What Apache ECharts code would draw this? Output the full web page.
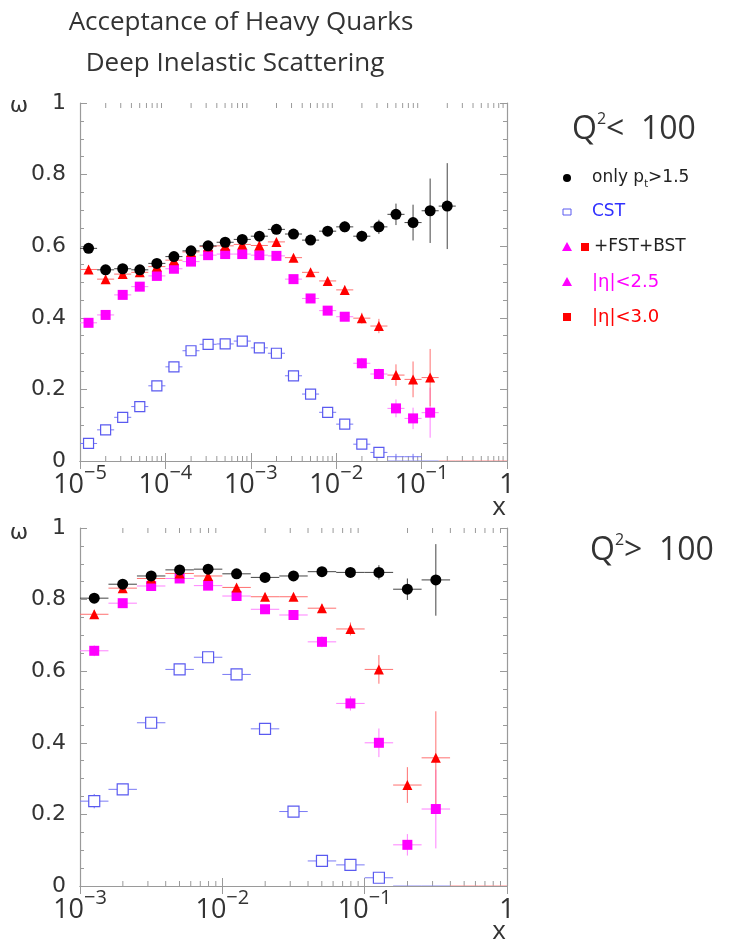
<!DOCTYPE html>
<html>
<head>
<meta charset="utf-8">
<script src="https://cdn.jsdelivr.net/npm/echarts@6/dist/echarts.min.js"></script>
<style>
html,body{margin:0;padding:0;background:#fff;}
#c{width:734px;height:943px;}
</style>
</head>
<body>
<div id="c"></div>
<script>
// ---------------- DATA ----------------
// Top panel (Q^2 < 100): bin centres as log10(x)
const topLogX = [-4.9,-4.7,-4.5,-4.3,-4.1,-3.9,-3.7,-3.5,-3.3,-3.1,-2.9,-2.7,-2.5,-2.3,-2.1,-1.9,-1.7,-1.5,-1.3,-1.1,-0.9,-0.7];
const topOnlyPt    = [0.594,0.534,0.537,0.534,0.552,0.571,0.587,0.601,0.611,0.619,0.628,0.647,0.634,0.617,0.642,0.654,0.628,0.654,0.689,0.666,0.699,0.712];
const topOnlyPtErr = [0.010,0.008,0.008,0.008,0.008,0.008,0.008,0.008,0.008,0.008,0.008,0.010,0.010,0.010,0.012,0.015,0.015,0.020,0.030,0.050,0.090,0.120];
const topCST       = [0.049,0.087,0.122,0.152,0.210,0.263,0.308,0.326,0.327,0.335,0.316,0.301,0.238,0.187,0.136,0.103,0.047,0.024];
const topCSTErr    = [0.006,0.006,0.006,0.006,0.006,0.006,0.006,0.006,0.006,0.006,0.006,0.006,0.006,0.006,0.006,0.006,0.006,0.008];
const topCSTTailLogX = [-1.3,-1.1];
const topCSTTail     = [0.012,0.012];
const topEta30     = [0.535,0.508,0.522,0.527,0.543,0.561,0.584,0.599,0.601,0.605,0.602,0.612,0.568,0.527,0.503,0.478,0.399,0.377,0.240,0.228,0.233];
const topEta30Err  = [0.012,0.010,0.010,0.010,0.010,0.010,0.010,0.010,0.010,0.010,0.010,0.010,0.010,0.010,0.010,0.012,0.015,0.020,0.030,0.050,0.080];
const topEta25     = [0.386,0.408,0.464,0.487,0.517,0.537,0.557,0.575,0.578,0.578,0.575,0.573,0.508,0.454,0.420,0.403,0.273,0.243,0.147,0.119,0.135];
const topEta25Err  = [0.010,0.010,0.010,0.010,0.010,0.010,0.010,0.010,0.010,0.010,0.010,0.010,0.010,0.010,0.010,0.012,0.015,0.015,0.025,0.030,0.070];
const topZeroBlueLogX = [-1.3,-1.1,-0.9];
const topZeroRedLogX  = [-0.7,-0.5,-0.3,-0.1];

// Bottom panel (Q^2 > 100)
const botLogX = [-2.9,-2.7,-2.5,-2.3,-2.1,-1.9,-1.7,-1.5,-1.3,-1.1,-0.9,-0.7,-0.5];
const botOnlyPt    = [0.804,0.843,0.866,0.883,0.885,0.872,0.862,0.866,0.878,0.876,0.876,0.829,0.855];
const botOnlyPtErr = [0.010,0.010,0.010,0.010,0.010,0.010,0.010,0.010,0.010,0.012,0.020,0.030,0.100];
const botCST       = [0.237,0.270,0.456,0.605,0.639,0.591,0.439,0.208,0.070,0.059,0.023];
const botCSTErr    = [0.020,0.010,0.010,0.010,0.010,0.010,0.010,0.010,0.010,0.010,0.010];
const botEta30     = [0.759,0.832,0.859,0.873,0.866,0.834,0.808,0.808,0.776,0.718,0.605,0.282,0.358];
const botEta30Err  = [0.012,0.010,0.010,0.010,0.010,0.010,0.010,0.010,0.012,0.018,0.040,0.050,0.130];
const botEta25     = [0.657,0.790,0.838,0.859,0.839,0.810,0.773,0.757,0.682,0.510,0.400,0.115,0.215];
const botEta25Err  = [0.015,0.010,0.010,0.010,0.010,0.010,0.010,0.010,0.015,0.020,0.040,0.030,0.110];
const botZeroBlueLogX = [-0.7,-0.5];
const botZeroRedLogX  = [-0.3,-0.1];

const binHalfWidth = 0.1; // in decades

// ---------------- HELPERS ----------------
const FONT = '"Open Sans", "Liberation Sans", sans-serif';
const NUMFONT = '"DejaVu Sans", sans-serif';
const LEGFONT = '"DejaVu Sans", sans-serif';
const TXT = '#333';
const AX = '#9a9a9a';
const C_BLACK = '#000000', C_BLUE = '#5a5af0', C_RED = '#ff0000', C_MAG = '#ff00ff';

function pts(logx, vals, errs) {
  const out = [];
  vals.forEach((v, i) => { if (v != null) out.push([Math.pow(10, logx[i]), v, errs ? errs[i] : 0]); });
  return out;
}
function makeErrRender(col) {
  return function (params, api) {
    const x = api.value(0), y = api.value(1), e = api.value(2);
    const h = Math.pow(10, binHalfWidth);
    const pc = api.coord([x, y]);
    const pl = api.coord([x / h, y]);
    const pr = api.coord([x * h, y]);
    const pt = api.coord([x, Math.min(y + e, 1)]);
    const pb = api.coord([x, Math.max(y - e, 0)]);
    const ch = [{type: 'line', shape: {x1: pl[0], y1: pc[1], x2: pr[0], y2: pc[1]}, style: {stroke: col, lineWidth: 1}}];
    if (e > 0) ch.push({type: 'line', shape: {x1: pc[0], y1: pt[1], x2: pc[0], y2: pb[1]}, style: {stroke: col, lineWidth: 1}});
    return {type: 'group', children: ch};
  };
}
function errSeries(xi, yi, data, col, z) {
  return {type: 'custom', xAxisIndex: xi, yAxisIndex: yi, data: data, renderItem: makeErrRender(col),
    encode: {x: 0, y: 1}, clip: true, silent: true, z: z};
}
function markSeries(xi, yi, data, symbol, size, col, filled, z) {
  return {type: 'scatter', xAxisIndex: xi, yAxisIndex: yi, data: data, symbol: symbol, symbolSize: size,
    itemStyle: filled ? {color: col, opacity: 1} : {color: '#fff', borderColor: col, borderWidth: 1.2, opacity: 1},
    silent: true, z: z, animation: false};
}
// minor log ticks (2..9 x 10^n) as tick values
function minorLogTicks(minExp, maxExp) {
  const t = [];
  for (let e = minExp; e < maxExp; e++) for (let m = 2; m <= 9; m++) t.push([m * Math.pow(10, e), 0]);
  return t;
}
function minorTickSeries(xi, yi, data) {
  return {type: 'custom', xAxisIndex: xi, yAxisIndex: yi, data: data, encode: {x: 0, y: 1}, silent: true, z: 1,
    renderItem: function (params, api) {
      const b = api.coord([api.value(0), 0]);
      const t = api.coord([api.value(0), 1]);
      return {type: 'group', children: [
        {type: 'line', shape: {x1: b[0], y1: b[1], x2: b[0], y2: b[1] - 5}, style: {stroke: AX, lineWidth: 1}},
        {type: 'line', shape: {x1: t[0], y1: t[1], x2: t[0], y2: t[1] + 5}, style: {stroke: AX, lineWidth: 1}}
      ]};
    }};
}
function xLabel(v) {
  const e = Math.round(Math.log10(v));
  if (e === 0) return '{b|1}';
  return '{b|10}{s|\u2212' + (-e) + '}';
}
function xAxisPair(gi, min) {
  const base = {type: 'log', logBase: 10, min: min, max: 1, gridIndex: gi,
    axisLine: {show: true, lineStyle: {color: AX, width: 1.2}},
    axisTick: {show: true, inside: true, length: 8, lineStyle: {color: AX, width: 1}},
    splitLine: {show: false}, minorTick: {show: false}};
  return [
    Object.assign({}, base, {position: 'bottom',
      axisLabel: {show: true, margin: 2, formatter: xLabel,
        rich: {b: {fontSize: 27, fontFamily: FONT, color: TXT, lineHeight: 44},
               s: {fontSize: 20, fontFamily: FONT, color: TXT, lineHeight: 16, padding: [0, 0, 24, 0]}}}}),
    Object.assign({}, base, {position: 'top', axisLabel: {show: false}})
  ];
}
function yAxisPair(gi) {
  const base = {type: 'value', min: 0, max: 1, interval: 0.2, gridIndex: gi,
    axisLine: {show: true, lineStyle: {color: AX, width: 1.2}},
    axisTick: {show: true, inside: true, length: 7, lineStyle: {color: AX, width: 1}},
    minorTick: {show: true, splitNumber: 4, length: 4, lineStyle: {color: AX, width: 1}},
    splitLine: {show: false}};
  return [
    Object.assign({}, base, {position: 'left',
      axisLabel: {show: true, margin: 14, fontSize: 22, fontFamily: NUMFONT, color: TXT,
        formatter: function (v) { return (v === 0 || v === 1) ? String(v) : v.toFixed(1); }}}),
    Object.assign({}, base, {position: 'right', axisLabel: {show: false}})
  ];
}

const zeroTop = topZeroBlueLogX.map(l => [Math.pow(10, l), 0, 0]);
const zeroTopR = topZeroRedLogX.map(l => [Math.pow(10, l), 0, 0]);
const zeroBot = botZeroBlueLogX.map(l => [Math.pow(10, l), 0, 0]);
const zeroBotR = botZeroRedLogX.map(l => [Math.pow(10, l), 0, 0]);

const series = [
  minorTickSeries(0, 0, minorLogTicks(-5, 0)),
  minorTickSeries(2, 2, minorLogTicks(-3, 0)),
  // top panel
  errSeries(0, 0, zeroTop, '#8c8cf5', 3),
  errSeries(0, 0, zeroTopR, '#ff8a8a', 3),
  errSeries(0, 0, pts(topLogX, topEta25, topEta25Err), '#ff80ff', 3),
  errSeries(0, 0, pts(topLogX, topEta30, topEta30Err), '#ff7070', 3),
  errSeries(0, 0, pts(topLogX, topCST, topCSTErr), '#7a7af5', 3),
  errSeries(0, 0, pts(topCSTTailLogX, topCSTTail, [0.008, 0.008]), '#7a7af5', 3),
  errSeries(0, 0, pts(topLogX, topOnlyPt, topOnlyPtErr), '#444', 3),
  markSeries(0, 0, pts(topLogX, topEta25), 'rect', 10, C_MAG, true, 4),
  markSeries(0, 0, pts(topLogX, topEta30), 'triangle', 10, C_RED, true, 5),
  markSeries(0, 0, pts(topLogX, topCST), 'rect', 10, C_BLUE, false, 5),
  markSeries(0, 0, pts(topLogX, topOnlyPt), 'circle', 11, C_BLACK, true, 6),
  // bottom panel
  errSeries(2, 2, zeroBot, '#8c8cf5', 3),
  errSeries(2, 2, zeroBotR, '#ff8a8a', 3),
  errSeries(2, 2, pts(botLogX, botEta25, botEta25Err), '#ff80ff', 3),
  errSeries(2, 2, pts(botLogX, botEta30, botEta30Err), '#ff7070', 3),
  errSeries(2, 2, pts(botLogX, botCST, botCSTErr), '#7a7af5', 3),
  errSeries(2, 2, pts(botLogX, botOnlyPt, botOnlyPtErr), '#444', 3),
  markSeries(2, 2, pts(botLogX, botEta25), 'rect', 10, C_MAG, true, 4),
  markSeries(2, 2, pts(botLogX, botEta30), 'triangle', 10, C_RED, true, 5),
  markSeries(2, 2, pts(botLogX, botCST), 'rect', 11, C_BLUE, false, 5),
  markSeries(2, 2, pts(botLogX, botOnlyPt), 'circle', 11, C_BLACK, true, 6)
];

function txt(x, y, text, size, color, align, font) {
  return {type: 'text', x: x, y: y, silent: true,
    style: {text: text, fontSize: size, fontFamily: font || FONT, fill: color, align: align || 'left', verticalAlign: 'middle'}};
}
const qRich = {q: {fontSize: 32, fontFamily: FONT, fill: TXT, lineHeight: 38},
               sup: {fontSize: 16, fontFamily: FONT, fill: TXT, lineHeight: 18, verticalAlign: 'top'}};
const legRich = {n: {fontSize: 17, fontFamily: LEGFONT, fill: '#222', lineHeight: 22},
                 sub: {fontSize: 10, fontFamily: LEGFONT, fill: '#222', lineHeight: 10, verticalAlign: 'bottom'}};
const graphic = [
  txt(241, 23, 'Acceptance of Heavy Quarks', 26, TXT, 'center'),
  txt(235, 64, 'Deep Inelastic Scattering', 26, TXT, 'center'),
  txt(19, 106, '\u03c9', 22, TXT, 'center', NUMFONT),
  txt(19, 533, '\u03c9', 22, TXT, 'center', NUMFONT),
  txt(499, 508, 'x', 26, TXT, 'center'),
  txt(499, 932, 'x', 26, TXT, 'center'),
  {type: 'text', x: 572, y: 130, silent: true, style: {text: '{q|Q}{sup|2}{q|<  100}', rich: qRich, verticalAlign: 'middle'}},
  {type: 'text', x: 590, y: 551, silent: true, style: {text: '{q|Q}{sup|2}{q|>  100}', rich: qRich, verticalAlign: 'middle'}},
  // legend
  {type: 'circle', shape: {cx: 567, cy: 178, r: 4}, style: {fill: C_BLACK}, silent: true},
  {type: 'text', x: 592, y: 178, silent: true, style: {text: '{n|only p}{sub|t}{n|>1.5}', rich: legRich, verticalAlign: 'middle'}},
  {type: 'rect', shape: {x: 563, y: 209, width: 8, height: 6}, style: {fill: '#fff', stroke: C_BLUE, lineWidth: 1}, silent: true},
  txt(592, 212, 'CST', 17, '#3030ff', 'left', LEGFONT),
  {type: 'polygon', shape: {points: [[567, 242], [572, 251], [562, 251]]}, style: {fill: C_MAG}, silent: true},
  {type: 'rect', shape: {x: 581, y: 243, width: 8, height: 8}, style: {fill: C_RED}, silent: true},
  txt(594, 247, '+FST+BST', 17, '#222', 'left', LEGFONT),
  {type: 'polygon', shape: {points: [[567, 277], [572, 286], [562, 286]]}, style: {fill: C_MAG}, silent: true},
  txt(592, 282, '|\u03b7|<2.5', 18, C_MAG, 'left', LEGFONT),
  {type: 'rect', shape: {x: 563, y: 313, width: 8, height: 8}, style: {fill: C_RED}, silent: true},
  txt(592, 317, '|\u03b7|<3.0', 18, C_RED, 'left', LEGFONT)
];

const chart = echarts.init(document.getElementById('c'), null, {renderer: 'canvas'});
chart.setOption({
  backgroundColor: '#fff',
  animation: false,
  grid: [
    {left: 80, top: 103, width: 427, height: 358},
    {left: 80, top: 528, width: 427, height: 358}
  ],
  xAxis: [].concat(xAxisPair(0, 1e-5), xAxisPair(1, 1e-3)),
  yAxis: [].concat(yAxisPair(0), yAxisPair(1)),
  series: series,
  graphic: graphic
});
</script>
</body>
</html>
